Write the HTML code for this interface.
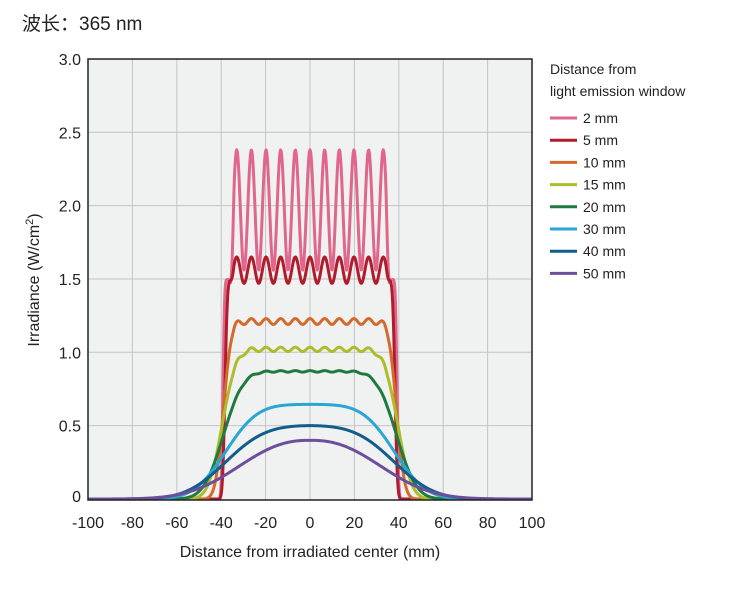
<!DOCTYPE html>
<html><head><meta charset="utf-8"><style>
body{margin:0;background:#fff;}
svg{display:block;font-family:"Liberation Sans","Noto Sans CJK SC",sans-serif;}
</style></head><body>
<svg id="s" width="734" height="597" viewBox="0 0 734 597">
<text x="22" y="30" font-size="19" fill="#222">波长：365 nm</text>
<rect x="88" y="59" width="444" height="441" fill="#f0f1f1"/>
<g id="grid" stroke="#c4c4c4" stroke-width="1"></g>
<g id="curves" fill="none" stroke-width="3" stroke-linejoin="round"></g>
<rect x="88" y="59" width="444" height="441" fill="none" stroke="#222" stroke-width="1.5"/>
<g id="ticks" font-size="16" fill="#222"></g>
<text x="310" y="557" font-size="16" text-anchor="middle" fill="#222">Distance from irradiated center (mm)</text>
<text transform="translate(39,280) rotate(-90)" font-size="16" text-anchor="middle" fill="#222">Irradiance (W/cm<tspan font-size="11" dy="-6">2</tspan><tspan dy="6">)</tspan></text>
<g id="legend" font-size="14" fill="#222">
<text x="550" y="74">Distance from</text>
<text x="550" y="96">light emission window</text>
</g>
</svg>
<script>
const X=m=>310+m*2.22, Y=v=>499-v*146.7;
const ns="http://www.w3.org/2000/svg";
function el(p,t,a,txt){const e=document.createElementNS(ns,t);for(const k in a)e.setAttribute(k,a[k]);if(txt!=null)e.textContent=txt;document.getElementById(p).appendChild(e);return e;}
for(let m=-80;m<=80;m+=20)el("grid","line",{x1:X(m),x2:X(m),y1:59,y2:500});
for(let v=0.5;v<3;v+=0.5)el("grid","line",{x1:88,x2:532,y1:Y(v),y2:Y(v)});
for(let m=-100;m<=100;m+=20)el("ticks","text",{x:X(m),y:528,"text-anchor":"middle"},m);
[0,0.5,1,1.5,2,2.5,3].forEach(v=>el("ticks","text",{x:81,y:Y(v)+(v==0?3:6),"text-anchor":"end"},v==0?"0":v.toFixed(1)));
function erf(x){const s=Math.sign(x);x=Math.abs(x);const t=1/(1+0.3275911*x);const y=1-(((((1.061405429*t-1.453152027)*t)+1.421413741)*t-0.284496736)*t+0.254829592)*t*Math.exp(-x*x);return s*y;}
function ss(a,b,x){let t=Math.min(1,Math.max(0,(x-a)/(b-a)));return t*t*(3-2*t);}
const S=[
["#e0668c","2 mm",39.2,0.8,1.97,0.41,0.24],
["#b01c2c","5 mm",38.3,1.2,1.56,0.09,0.04],
["#d26a2c","10 mm",39,4,1.21,0.02,0],
["#acbc2a","15 mm",39.5,7,1.02,0.015,0],
["#1e7a40","20 mm",39,10,0.87,0.005,0],
["#29a6d4","30 mm",38,16,0.645,0,0],
["#115e8c","40 mm",38,20,0.5,0,0],
["#6c4f9c","50 mm",0,40,0.4,0,0]];
S.forEach((s,i)=>{
 const [c,l,w,sg,mid,amp,sh]=s;
 const n0=w?erf(w/sg):1;
 let d="";
 for(let m=-100;m<=100.001;m+=0.25){
  let env;
  if(w) env=0.5*(erf((w-m)/sg)+erf((w+m)/sg))/n0;
  else env=Math.exp(-Math.pow(Math.abs(m)/sg,2.4));
  const a=Math.abs(m);
  const g=a<34?1:Math.exp(-Math.pow((a-34)/1.2,2));
  const h=1-sh*ss(34,36,a);
  const v=env*(mid*h+amp*Math.cos(2*Math.PI*m/6.6)*g);
  d+=(d?"L":"M")+X(m).toFixed(2)+" "+Y(v).toFixed(2);
 }
 el("curves","path",{d:d,stroke:c});
 const y=118+i*22.2;
 el("legend","line",{x1:550,x2:577,y1:y,y2:y,stroke:c,"stroke-width":3});
 el("legend","text",{x:583,y:y+5},l);
});
</script>
</body></html>
